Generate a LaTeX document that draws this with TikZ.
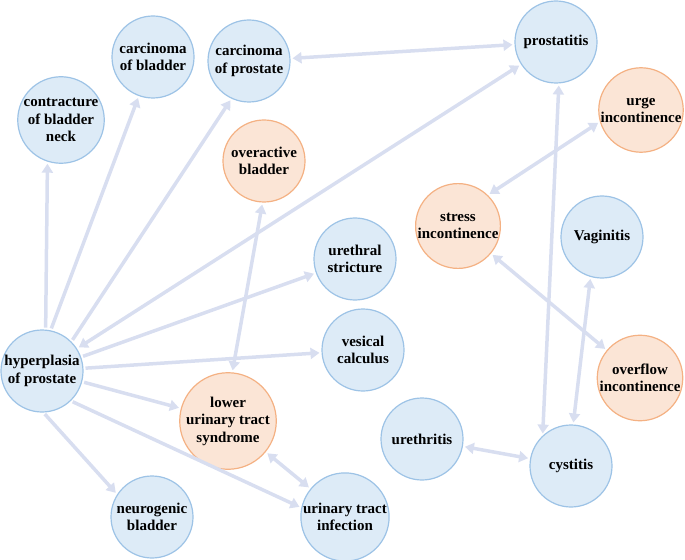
\documentclass[tikz,border=0pt]{standalone}
\usepackage{fontspec}
\setmainfont{Liberation Serif}
\usetikzlibrary{arrows.meta}
\definecolor{hellblau}{RGB}{221,235,247}
\definecolor{blaurand}{RGB}{157,195,230}
\definecolor{hellorange}{RGB}{251,229,214}
\definecolor{orangerand}{RGB}{244,177,131}
\definecolor{pfeilblau}{RGB}{216,222,240}
\tikzset{
  krank/.style={circle, draw=blaurand, fill=hellblau, line width=1.2bp, minimum size=82bp,
    inner sep=0pt, align=center, font=\fontsize{15bp}{17.5bp}\selectfont\bfseries},
  symptom/.style={krank, draw=orangerand, fill=hellorange},
  pfeil/.style={draw=pfeilblau, line width=3.5bp, -{Triangle[width=11bp,length=9bp]},
    shorten >=2bp, shorten <=2bp},
  doppel/.style={pfeil, {Triangle[width=11bp,length=9bp]}-{Triangle[width=11bp,length=9bp]}}
}
\begin{document}
\begin{tikzpicture}[x=1bp, y=-1bp]
    \useasboundingbox (0,0) rectangle (685,560);

    % Knoten (blau)
    \node[krank] (kontraktur) at (61,120) {contracture\\of bladder\\neck};
    \node[krank] (blasenkarz) at (153,57) {carcinoma\\of bladder};
    \node[krank] (prostkarz) at (249,61) {carcinoma\\of prostate};
    \node[krank] (prostatitis) at (556,42) {prostatitis};
    \node[krank] (vaginitis) at (602,237) {Vaginitis};
    \node[krank] (striktur) at (355,259) {urethral\\stricture};
    \node[krank] (stein) at (363,350) {vesical\\calculus};
    \node[krank] (bph) at (42,371) {hyperplasia\\of prostate};
    \node[krank] (urethritis) at (422,439) {urethritis};
    \node[krank] (zystitis) at (571,466) {cystitis};
    \node[krank] (neurogen) at (152,517) {neurogenic\\bladder};
    \node[krank] (hwi) at (345,517) {urinary tract\\infection};

    % Knoten (orange)
    \node[symptom] (drang) at (641,110) {urge\\incontinence};
    \node[symptom] (oab) at (264,161) {overactive\\bladder};
    \node[symptom] (stress) at (458,226) {stress\\incontinence};
    \node[symptom] (ueberlauf) at (640,378) {overflow\\incontinence};
    \node[symptom] (luts) at (228,421) {lower\\urinary tract\\syndrome};

    % Pfeile von der Prostatahyperplasie
    \draw[pfeil] (bph.85) -- (kontraktur.252);
    \draw[pfeil] (bph.78) -- (blasenkarz.250);
    \draw[pfeil] (bph.45) -- (prostkarz.245);
    \draw[doppel] (bph) -- (prostatitis);
    \draw[pfeil] (bph) -- (striktur);
    \draw[pfeil] (bph) -- (stein);
    \draw[pfeil] (bph) -- (luts);
    \draw[pfeil] (bph.314) -- (hwi.168);
    \draw[pfeil] (bph.272) -- (neurogen.147);

    % Doppelpfeile
    \draw[doppel] (prostkarz) -- (prostatitis);
    \draw[doppel] (oab.268) -- (luts.85);
    \draw[doppel] (luts) -- (hwi);
    \draw[doppel] (prostatitis.274) -- (zystitis.133);
    \draw[doppel] (drang.196) -- (stress.46);
    \draw[doppel] (stress) -- (ueberlauf);
    \draw[doppel] (vaginitis.254) -- (zystitis.87);
    \draw[doppel] (urethritis) -- (zystitis);
\end{tikzpicture}
\end{document}
